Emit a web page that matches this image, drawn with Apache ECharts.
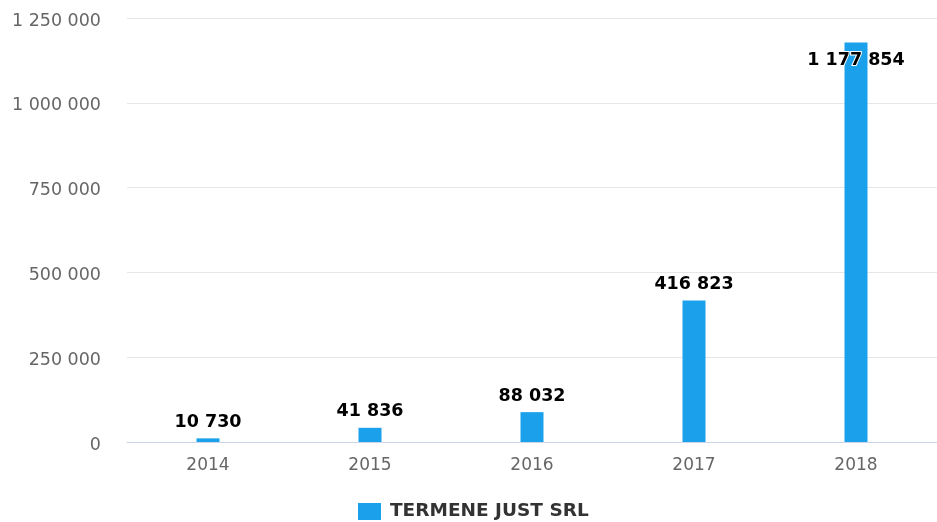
<!DOCTYPE html>
<html>
<head>
<meta charset="utf-8">
<script src="https://cdn.jsdelivr.net/npm/echarts@6/dist/echarts.min.js"></script>
<style>
  html, body { margin: 0; padding: 0; background: #fff; }
  #chart { width: 937px; height: 522px; }
</style>
</head>
<body>
<div id="chart"></div>
<script>
const years = ['2014', '2015', '2016', '2017', '2018'];
const values = [10730, 41836, 88032, 416823, 1177854];
const seriesName = 'TERMENE JUST SRL';

const FONT = '"DejaVu Sans", sans-serif';

// numbers with a space as thousands separator
function fmt(v) {
  return String(Math.round(v)).replace(/\B(?=(\d{3})+(?!\d))/g, ' ');
}

const chart = echarts.init(document.getElementById('chart'));
chart.setOption({
  animation: false,
  textStyle: { fontFamily: FONT },
  grid: { left: 127, right: 0, top: 18, bottom: 80 },
  legend: {
    top: 502,
    left: 358,
    padding: 0,
    icon: 'rect',
    itemWidth: 23,
    itemHeight: 17,
    itemGap: 10,
    textStyle: { fontFamily: FONT, fontSize: 18.5, fontWeight: 'bold', color: '#333', padding: [0, 0, 0, 4] },
    data: [seriesName]
  },
  xAxis: {
    type: 'category',
    data: years,
    axisLine: { lineStyle: { color: '#ccd6eb' } },
    axisTick: { length: 12, lineStyle: { color: '#ccd6eb' } },
    axisLabel: { fontFamily: FONT, color: '#666', fontSize: 17, margin: 15 }
  },
  yAxis: {
    type: 'value',
    min: 0,
    max: 1250000,
    interval: 250000,
    axisLine: { show: false },
    axisTick: { show: false },
    splitLine: { lineStyle: { color: '#e6e6e6' } },
    axisLabel: {
      fontFamily: FONT, color: '#666', fontSize: 17.5, margin: 26,
      verticalAlign: 'top', lineHeight: 6,  // nudge labels a few px below the grid line
      formatter: fmt
    }
  },
  series: [{
    name: seriesName,
    type: 'bar',
    barWidth: 23,
    itemStyle: { color: '#1ba1ec' },
    data: values.map((v, i) => i === values.length - 1
      ? { value: v, label: { position: 'insideTop', distance: 9 } }
      : v),
    label: {
      show: true,
      position: 'top',
      distance: 7,
      fontFamily: FONT,
      color: '#000',
      fontSize: 17.5,
      fontWeight: 'bold',
      textBorderColor: '#fff',
      textBorderWidth: 2,
      formatter: p => fmt(p.value)
    }
  }]
});
</script>
</body>
</html>
